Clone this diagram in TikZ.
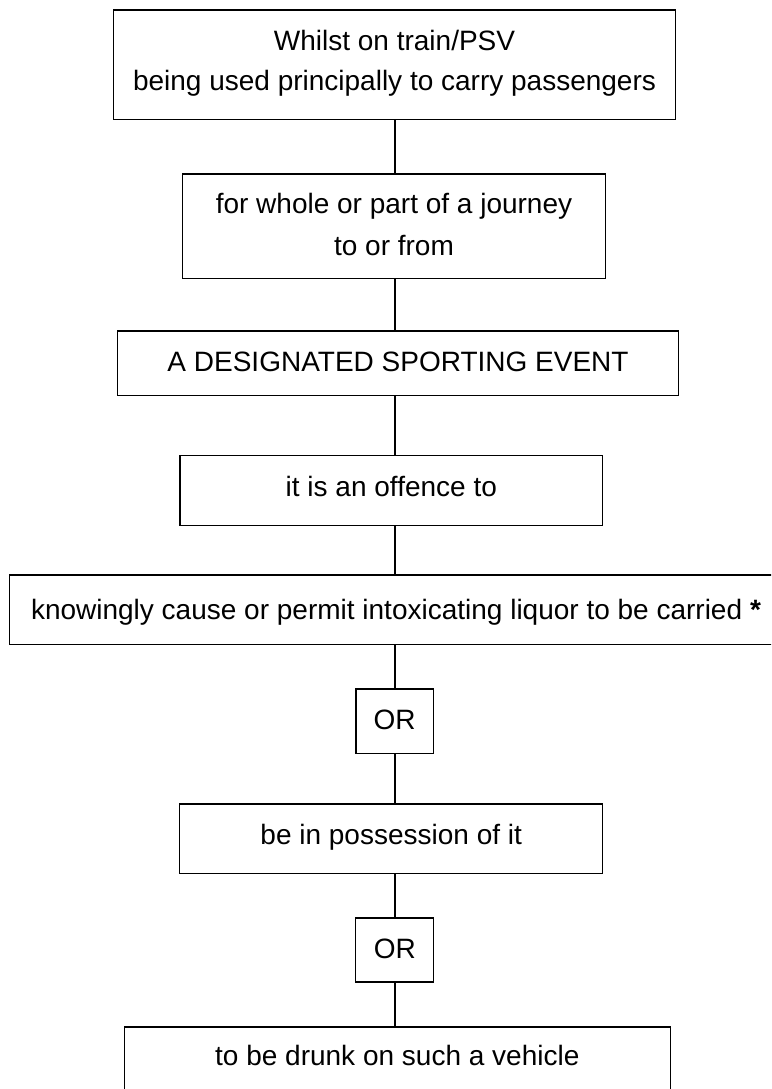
\documentclass[tikz,border=0pt]{standalone}
\usepackage{fontspec}
\setmainfont{Liberation Sans}
\begin{document}
\begin{tikzpicture}[x=1pt,y=-1pt,
  box/.style={draw, line width=1.3pt, rectangle, inner sep=0pt},
  lbl/.style={anchor=base, inner sep=0pt, font=\fontsize{28}{34}\selectfont},
  link/.style={line width=1.3pt}]
\useasboundingbox (0,0) rectangle (771,1089);
\clip (0,0) rectangle (771,1089);
\coordinate (ax) at (395,0);
% boxes
\node[box, minimum width=561.6pt, minimum height=109.3pt] (b1) at (394.5,64.65) {};
\node[box, minimum width=422.6pt, minimum height=104.3pt] (b2) at (394,226.15) {};
\node[box, minimum width=561.4pt, minimum height=64.3pt] (b3) at (398,363.15) {};
\node[box, minimum width=422.7pt, minimum height=70pt] (b4) at (391.35,490.7) {};
\node[box, minimum width=772.3pt, minimum height=69.7pt] (b5) at (395.85,609.85) {};
\node[box, minimum width=77.3pt, minimum height=64.7pt] (or1) at (394.65,721.35) {};
\node[box, minimum width=423pt, minimum height=69.7pt] (b6) at (391.2,838.85) {};
\node[box, minimum width=77.6pt, minimum height=64pt] (or2) at (394.5,950) {};
\node[box, minimum width=546pt, minimum height=70pt] (b7) at (397.3,1062) {};
% texts
\node[lbl] (t1a) at (394.5,51) {Whilst on train/PSV};
\node[lbl] (t1b) at (394.5,90.7) {being used principally to carry passengers};
\node[lbl] (t2a) at (394,213.3) {for whole or part of a journey};
\node[lbl] (t2b) at (394,255) {to or from};
\node[lbl] (t3) at (398,371.7) {A DESIGNATED SPORTING EVENT};
\node[lbl] (t4) at (391.3,496.3) {it is an offence to};
\node[lbl] (t5) at (396,619.7) {knowingly cause or permit intoxicating liquor to be carried \textbf{*}};
\node[lbl] (tor1) at (394.7,729.3) {OR};
\node[lbl] (t6) at (391.2,844.3) {be in possession of it};
\node[lbl] (tor2) at (394.8,958.3) {OR};
\node[lbl] (t7) at (397.3,1065.7) {to be drunk on such a vehicle};
% connectors
\draw[link] (b1.south -| ax) -- (b2.north -| ax);
\draw[link] (b2.south -| ax) -- (b3.north -| ax);
\draw[link] (b3.south -| ax) -- (b4.north -| ax);
\draw[link] (b4.south -| ax) -- (b5.north -| ax);
\draw[link] (b5.south -| ax) -- (or1.north -| ax);
\draw[link] (or1.south -| ax) -- (b6.north -| ax);
\draw[link] (b6.south -| ax) -- (or2.north -| ax);
\draw[link] (or2.south -| ax) -- (b7.north -| ax);
\end{tikzpicture}
\end{document}
